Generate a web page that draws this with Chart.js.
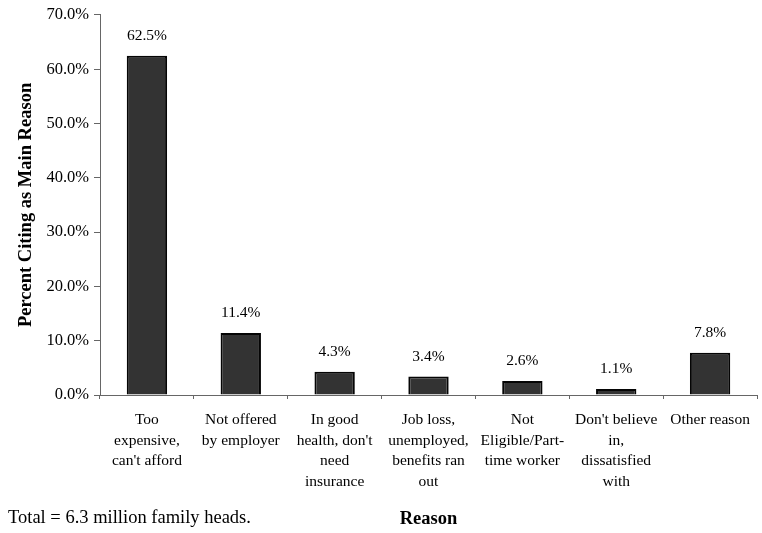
<!DOCTYPE html>
<html>
<head>
<meta charset="utf-8">
<script src="https://cdn.jsdelivr.net/npm/chart.js@4/dist/chart.umd.min.js"></script>
<style>
  html, body { margin: 0; padding: 0; background: #fff; }
  #wrap { width: 762px; height: 533px; position: relative; }
</style>
</head>
<body>
<div id="wrap"><canvas id="reasonChart"></canvas></div>
<script>
// categories (multi-line labels as in the original)
var reasons = [
    ['Too', 'expensive,', "can't afford"],
    ['Not offered', 'by employer'],
    ['In good', "health, don't", 'need', 'insurance'],
    ['Job loss,', 'unemployed,', 'benefits ran', 'out'],
    ['Not', 'Eligible/Part-', 'time worker'],
    ["Don't believe", 'in,', 'dissatisfied', 'with'],
    ['Other reason']
];
// percent citing as main reason
var percents = [62.5, 11.4, 4.3, 3.4, 2.6, 1.1, 7.8];
var yTicks = [0, 10, 20, 30, 40, 50, 60, 70];
var footnote = 'Total = 6.3 million family heads.';

var serif = '"Liberation Serif", "Times New Roman", serif';

// values printed above each bar
var valueLabels = {
    id: 'valueLabels',
    afterDatasetsDraw: function (chart) {
        var ctx = chart.ctx;
        var meta = chart.getDatasetMeta(0);
        ctx.save();
        ctx.font = '15.5px ' + serif;
        ctx.fillStyle = '#000';
        ctx.textAlign = 'center';
        ctx.textBaseline = 'middle';
        meta.data.forEach(function (bar, i) {
            ctx.fillText(percents[i].toFixed(1) + '%', bar.x, bar.y - 20);
        });
        ctx.restore();
    }
};

// footnote at lower left
var footnotePlugin = {
    id: 'footnote',
    afterDraw: function (chart) {
        var ctx = chart.ctx;
        ctx.save();
        ctx.font = '18.5px ' + serif;
        ctx.fillStyle = '#000';
        ctx.textAlign = 'left';
        ctx.textBaseline = 'middle';
        ctx.fillText(footnote, 8, 518);
        ctx.restore();
    }
};

var ctx = document.getElementById('reasonChart').getContext('2d');
var reasonChart = new Chart(ctx, {
    type: 'bar',
    data: {
        labels: reasons,
        datasets: [{
            data: percents,
            backgroundColor: '#333333',
            borderColor: '#050505',
            borderWidth: 2,
            categoryPercentage: 1.0,
            barPercentage: 0.43
        }]
    },
    options: {
        responsive: true,
        maintainAspectRatio: false,
        animation: false,
        layout: { padding: { top: 0, right: 5, left: 0, bottom: 0 } },
        plugins: {
            legend: { display: false },
            tooltip: { enabled: false }
        },
        scales: {
            y: {
                min: 0,
                max: 70,
                afterBuildTicks: function (axis) {
                    axis.ticks = yTicks.map(function (v) { return { value: v }; });
                },
                afterFit: function (axis) { axis.width = 100; },
                ticks: {
                    color: '#000',
                    font: { family: serif, size: 16.5 },
                    padding: 5,
                    callback: function (v) { return v.toFixed(1) + '%'; }
                },
                grid: {
                    drawOnChartArea: false,
                    drawTicks: true,
                    tickLength: 6,
                    color: '#666'
                },
                border: { display: true, color: '#666', width: 1 },
                title: {
                    display: true,
                    text: 'Percent Citing as Main Reason',
                    color: '#000',
                    font: { family: serif, size: 18.5, weight: 'bold' },
                    padding: { top: 15, bottom: 0 }
                }
            },
            x: {
                afterFit: function (axis) { axis.height = 138; },
                ticks: {
                    color: '#000',
                    font: { family: serif, size: 15.5, lineHeight: 1.32 },
                    maxRotation: 0,
                    autoSkip: false,
                    padding: 11
                },
                grid: {
                    drawOnChartArea: false,
                    drawTicks: true,
                    tickLength: 4,
                    color: '#666'
                },
                border: { display: true, color: '#666', width: 1 },
                title: {
                    display: true,
                    text: 'Reason',
                    color: '#000',
                    font: { family: serif, size: 18.5, weight: 'bold' },
                    padding: { top: 0, bottom: 3 }
                }
            }
        }
    },
    plugins: [valueLabels, footnotePlugin]
});
</script>
</body>
</html>
